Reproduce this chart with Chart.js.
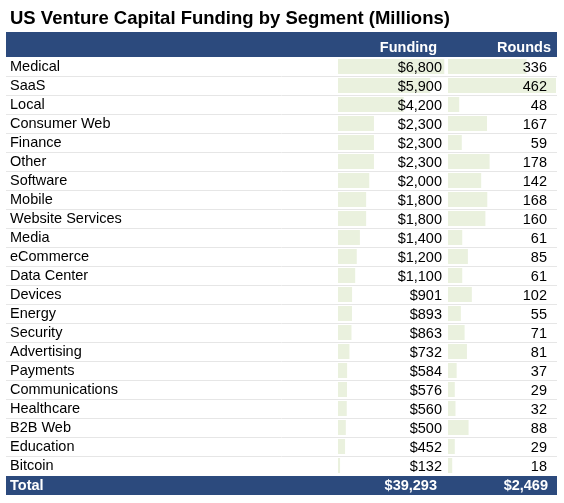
<!DOCTYPE html>
<html>
<head>
<meta charset="utf-8">
<script src="https://cdn.jsdelivr.net/npm/chart.js@4/dist/chart.umd.min.js"></script>
<style>
  html, body { margin: 0; padding: 0; background: #fff; }
  canvas { display: block; }
</style>
</head>
<body>
<canvas id="myChart" width="564" height="503"></canvas>
<script>
const FONT = '"Liberation Sans", Arial, Helvetica, sans-serif';

const title = 'US Venture Capital Funding by Segment (Millions)';
const columns = ['Funding', 'Rounds'];
const segments = ['Medical', 'SaaS', 'Local', 'Consumer Web', 'Finance', 'Other', 'Software', 'Mobile',
  'Website Services', 'Media', 'eCommerce', 'Data Center', 'Devices', 'Energy', 'Security', 'Advertising',
  'Payments', 'Communications', 'Healthcare', 'B2B Web', 'Education', 'Bitcoin'];
const funding = [6800, 5900, 4200, 2300, 2300, 2300, 2000, 1800, 1800, 1400, 1200, 1100, 901, 893, 863, 732,
  584, 576, 560, 500, 452, 132];
const rounds = [336, 462, 48, 167, 59, 178, 142, 168, 160, 61, 85, 61, 102, 55, 71, 81, 37, 29, 32, 88, 29, 18];

const money = v => '$' + v.toLocaleString('en-US');
const fundingTotal = funding.reduce((a, b) => a + b, 0);
const roundsTotal = rounds.reduce((a, b) => a + b, 0);

const NAVY = '#2c4a7d';
const BAR = '#eaf1de';

// draws the title, header/total bands, row rules and the numbers
const tablePlugin = {
  id: 'table',
  beforeDraw(chart) {
    const c = chart.ctx;
    const y = chart.scales.y;
    c.save();
    c.fillStyle = '#fff';
    c.fillRect(0, 0, chart.width, chart.height);

    c.fillStyle = '#000';
    c.font = 'bold 18.5px ' + FONT;
    c.textBaseline = 'alphabetic';
    c.fillText(title, 10, 23.5);

    c.fillStyle = NAVY;
    c.fillRect(6, 32, 551, 25);
    c.fillRect(6, 476, 551, 19);

    c.strokeStyle = '#e6e6e6';
    c.lineWidth = 1;
    segments.forEach((s, i) => {
      if (i === segments.length - 1) return;
      const yy = Math.round(y.getPixelForValue(i) + 9.5) + 0.5;
      c.beginPath();
      c.moveTo(6, yy);
      c.lineTo(557, yy);
      c.stroke();
    });
    c.restore();
  },
  afterDraw(chart) {
    const c = chart.ctx;
    const y = chart.scales.y;
    c.save();
    c.textAlign = 'right';
    c.textBaseline = 'alphabetic';
    c.fillStyle = '#000';
    c.font = '14.5px ' + FONT;
    segments.forEach((s, i) => {
      const yy = y.getPixelForValue(i) + 5.2;
      c.fillText(money(funding[i]), 442, yy);
      c.fillText(String(rounds[i]), 547, yy);
    });

    c.fillStyle = '#fff';
    c.font = 'bold 14.5px ' + FONT;
    c.fillText(columns[0], 437, 51.5);
    c.fillText(columns[1], 551, 51.5);
    c.fillText(money(fundingTotal), 437, 490);
    c.fillText(money(roundsTotal), 548, 490);
    c.textAlign = 'left';
    c.fillText('Total', 10, 490);
    c.restore();
  }
};

const ctx = document.getElementById('myChart').getContext('2d');

const chart = new Chart(ctx, {
  type: 'bar',
  data: {
    labels: segments,
    datasets: [
      {
        label: columns[0],
        data: funding,
        xAxisID: 'xF',
        backgroundColor: BAR,
        grouped: false,
        barPercentage: 0.79,
        categoryPercentage: 1
      },
      {
        label: columns[1],
        data: rounds,
        xAxisID: 'xR',
        backgroundColor: BAR,
        grouped: false,
        barPercentage: 0.79,
        categoryPercentage: 1
      }
    ]
  },
  options: {
    indexAxis: 'y',
    responsive: false,
    animation: false,
    devicePixelRatio: 1,
    layout: { padding: { left: 10, right: 8, top: 57, bottom: 28 } },
    plugins: {
      legend: { display: false },
      tooltip: { enabled: false }
    },
    scales: {
      y: {
        position: 'left',
        grid: { display: false },
        border: { display: false },
        ticks: {
          autoSkip: false,
          crossAlign: 'far',
          padding: 0,
          color: '#000',
          font: { family: FONT, size: 14.5 }
        },
        afterFit(scale) { scale.width = 328; }
      },
      // the two columns sit side by side in one stack
      xF: {
        position: 'bottom',
        stack: 'cols',
        stackWeight: 110,
        display: false,
        min: 0,
        max: 7037
      },
      xR: {
        position: 'bottom',
        stack: 'cols',
        stackWeight: 108,
        display: false,
        min: 0,
        max: 462
      }
    }
  },
  plugins: [tablePlugin]
});
</script>
</body>
</html>
